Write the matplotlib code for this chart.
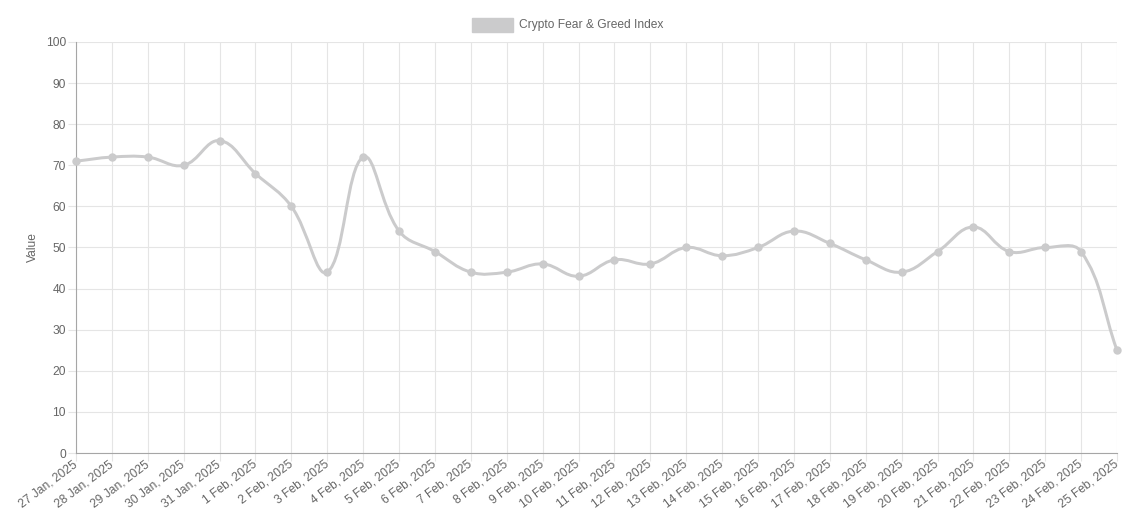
import matplotlib
matplotlib.use("Agg")
import matplotlib.pyplot as plt
from matplotlib.path import Path
from matplotlib.patches import PathPatch, Rectangle
import numpy as np

dates = ["27 Jan, 2025", "28 Jan, 2025", "29 Jan, 2025", "30 Jan, 2025", "31 Jan, 2025",
         "1 Feb, 2025", "2 Feb, 2025", "3 Feb, 2025", "4 Feb, 2025", "5 Feb, 2025",
         "6 Feb, 2025", "7 Feb, 2025", "8 Feb, 2025", "9 Feb, 2025", "10 Feb, 2025",
         "11 Feb, 2025", "12 Feb, 2025", "13 Feb, 2025", "14 Feb, 2025", "15 Feb, 2025",
         "16 Feb, 2025", "17 Feb, 2025", "18 Feb, 2025", "19 Feb, 2025", "20 Feb, 2025",
         "21 Feb, 2025", "22 Feb, 2025", "23 Feb, 2025", "24 Feb, 2025", "25 Feb, 2025"]
values = [71, 72, 72, 70, 76, 68, 60, 44, 72, 54, 49, 44, 44, 46, 43,
          47, 46, 50, 48, 50, 54, 51, 47, 44, 49, 55, 49, 50, 49, 25]
yticks = [0, 10, 20, 30, 40, 50, 60, 70, 80, 90, 100]
series_name = "Crypto Fear & Greed Index"

plt.rcParams['font.family'] = ['Liberation Sans', 'DejaVu Sans']
W, H = 1139, 527
fig = plt.figure(figsize=(W / 100, H / 100), dpi=100)
L, R, B, T = 76, 1117, 453, 42
ax = fig.add_axes([L / W, 1 - B / H, (R - L) / W, (B - T) / H])

line_color = "#cbcbcc"
grid_color = "#e5e5e5"
text_color = "#666666"
PX = 0.72  # points per pixel at 100 dpi
FS = 12 * PX

x = np.arange(len(values))
ax.set_xlim(0, len(values) - 1)
ax.set_ylim(0, 100)

# Chart.js-like spline (tension 0.4) computed in pixel space
fig.canvas.draw()
pts = ax.transData.transform(np.column_stack([x, values]))
tension = 0.4
n = len(pts)
cps_prev = np.zeros_like(pts)
cps_next = np.zeros_like(pts)
for i in range(n):
    cur = pts[i]
    prev = pts[i - 1] if i > 0 else cur
    nxt = pts[i + 1] if i < n - 1 else cur
    d01 = np.hypot(*(cur - prev))
    d12 = np.hypot(*(nxt - cur))
    tot = d01 + d12
    s01 = d01 / tot if tot else 0
    s12 = d12 / tot if tot else 0
    cps_prev[i] = cur - tension * s01 * (nxt - prev)
    cps_next[i] = cur + tension * s12 * (nxt - prev)
bb = ax.bbox
for arr in (cps_prev, cps_next):
    arr[:, 0] = np.clip(arr[:, 0], bb.x0, bb.x1)
    arr[:, 1] = np.clip(arr[:, 1], bb.y0, bb.y1)

verts = [pts[0]]
codes = [Path.MOVETO]
for i in range(1, n):
    verts += [cps_next[i - 1], cps_prev[i], pts[i]]
    codes += [Path.CURVE4] * 3
inv = ax.transData.inverted()
path = Path(inv.transform(np.array(verts)), codes)
ax.add_patch(PathPatch(path, facecolor="none", edgecolor=line_color, lw=3 * PX,
                       zorder=3, clip_on=False, capstyle="round", joinstyle="round"))
ax.plot(x, values, "o", color=line_color, ms=7 * PX, zorder=4, clip_on=False)

ax.set_xticks(x)
ax.set_xticklabels(dates, rotation=37, ha="right", va="center",
                   rotation_mode="anchor")
ax.set_yticks(yticks)
ax.grid(True, color=grid_color, lw=0.8)
ax.set_axisbelow(True)
for s in ["top", "right"]:
    ax.spines[s].set_visible(False)
ax.spines["left"].set_color("#a6a6a6")
ax.spines["bottom"].set_color("#a6a6a6")
ax.tick_params(axis="both", length=8 * PX, width=0.8, color=grid_color,
               labelcolor=text_color, labelsize=FS)
ax.tick_params(axis="y", pad=2 * PX)
ax.tick_params(axis="x", pad=2 * PX)
ax.set_ylabel("Value", color=text_color, fontsize=FS, labelpad=5)

# legend
fig.patches.append(Rectangle((472 / W, 1 - 32 / H), 41 / W, 14 / H, transform=fig.transFigure,
                             facecolor=line_color, edgecolor=line_color, lw=1))
fig.text(519 / W, 1 - 25 / H, series_name, color=text_color, fontsize=FS,
         va="center", ha="left")

fig.savefig("out.png", dpi=100)
